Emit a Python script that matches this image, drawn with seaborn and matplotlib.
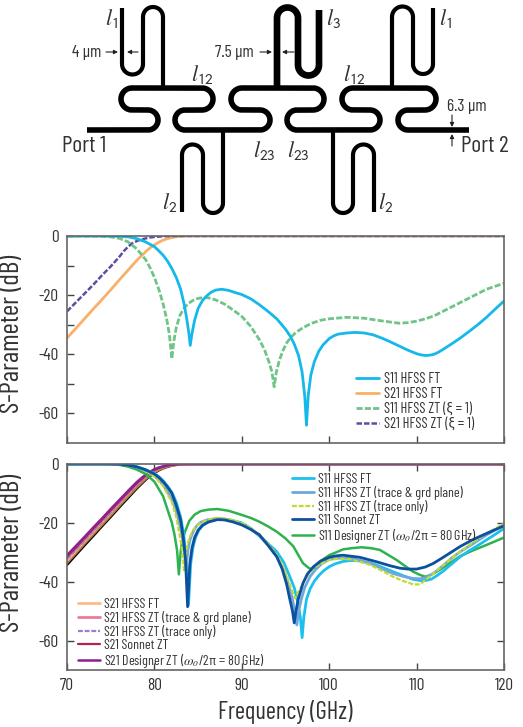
import numpy as np
import matplotlib
matplotlib.use("Agg")
import matplotlib.pyplot as plt
import seaborn as sns

# top panel
f_top_s11_ft = [70, 74, 76, 77, 78, 79, 80, 80.5, 81, 81.5, 82, 82.5, 83, 83.4, 83.7, 83.95, 84.1, 84.3, 84.6, 85, 85.5, 86, 86.5, 87, 87.7, 88.5, 89, 90, 91, 92, 93, 94, 95, 95.5, 96, 96.5, 96.9, 97.2, 97.4, 97.6, 97.9, 98.3, 98.8, 99.3, 100, 100.5, 101, 102, 103, 104, 105, 106, 107, 108, 109, 110, 110.5, 111, 111.5, 112, 112.5, 113, 114, 115, 116, 117, 118, 119, 120]
db_top_s11_ft = [0, 0, -0.1, -0.3, -0.9, -2, -3.6, -5, -6.5, -8.5, -11, -14, -18, -23, -28, -33, -37, -33, -28.5, -24.5, -21.8, -20.2, -19, -18.3, -18, -18.4, -18.9, -19.8, -21.2, -23.2, -25.5, -28, -31.5, -33.7, -36.5, -40.5, -46, -54, -64, -54, -47, -42.5, -39, -36.8, -34.7, -33.8, -33.2, -32.8, -32.6, -32.8, -33.4, -34.5, -35.8, -37.2, -38.6, -39.8, -40.2, -40.4, -40.3, -40, -39.3, -38.4, -36.5, -34.5, -32.3, -30, -27.5, -24.7, -22]
f_top_s21_ft = [70, 71, 72, 73, 74, 75, 76, 77, 78, 79, 79.5, 80, 80.5, 81, 81.5, 82, 82.5, 83, 83.5, 84, 120]
db_top_s21_ft = [-34.5, -31.3, -28, -24.7, -21.5, -18.2, -14.8, -11.5, -8.2, -5.3, -4, -3, -2.1, -1.4, -0.9, -0.5, -0.25, -0.1, -0.03, 0, 0]
f_top_s11_zt = [70, 74, 75, 76, 77, 78, 79, 79.5, 80, 80.5, 81, 81.4, 81.7, 82, 82.2, 82.5, 82.9, 83.3, 83.8, 84.4, 85, 85.6, 86.2, 87, 88, 89, 90, 91, 92, 92.6, 93.1, 93.45, 93.7, 93.95, 94.3, 94.7, 95.1, 95.6, 96.2, 97, 98, 99, 100, 102, 104, 106, 108, 109, 110, 111, 112, 113, 114, 115, 116, 117, 118, 119, 120]
db_top_s11_zt = [0, -0.1, -0.3, -0.8, -2, -4.4, -8, -10.7, -14, -18, -23, -28, -33, -41.5, -36, -31, -27, -24.8, -23, -21.8, -21.1, -20.8, -20.9, -21.6, -23, -25, -27.2, -30.5, -35, -38.5, -42.5, -46, -51, -46, -42, -38.8, -36.3, -34.3, -32.6, -31, -29.5, -28.5, -28, -27.5, -27.8, -28.7, -29.5, -29.3, -28.8, -28, -27, -25.5, -24, -22.5, -21, -19.5, -18, -17, -16]
f_top_s21_zt = [70, 71, 72, 73, 74, 75, 76, 76.5, 77, 77.5, 78, 78.5, 79, 79.5, 80, 81, 82, 120]
db_top_s21_zt = [-25.5, -22.5, -19.5, -16.5, -13.3, -10.3, -7, -5.1, -3.6, -2.4, -1.7, -1.2, -0.8, -0.5, -0.3, -0.1, 0, 0]

# bottom panel S11
f_s11_ft = [70, 75, 76, 77, 78, 79, 80, 80.5, 81, 81.5, 82, 82.5, 83, 83.35, 83.65, 83.9, 84.15, 84.4, 84.7, 85.1, 85.6, 86.2, 87, 87.8, 88.5, 90, 91, 92, 93, 94, 94.8, 95.5, 96, 96.4, 96.7, 96.9, 97.1, 97.4, 97.8, 98.3, 98.9, 99.4, 100, 100.7, 101.6, 102.5, 103.5, 104.5, 105.4, 107.3, 108.5, 109.6, 110.4, 111, 111.7, 112.3, 113, 114, 115, 116, 117, 118, 119, 120]
db_s11_ft = [0, 0, -0.1, -0.3, -0.9, -1.9, -3.2, -4.3, -5.7, -7.5, -9.6, -13, -18, -24, -32, -48, -34, -28.5, -25, -22.4, -20.7, -19.6, -18.9, -18.7, -18.9, -20, -21.8, -24.4, -27, -29.8, -33.4, -38.3, -42, -47, -52, -59, -52, -46, -42.5, -39.8, -37.6, -36.2, -34.9, -33.9, -33.1, -32.8, -32.9, -33.5, -34.3, -36.6, -38, -39.2, -39.6, -39.6, -39.1, -38, -36.5, -34, -31.5, -29.5, -27.7, -25.8, -23.9, -21.9]
f_s11_grd = [70, 75, 76, 77, 78, 79, 80, 81, 82, 82.5, 83, 83.35, 83.6, 83.85, 84.1, 84.5, 84.9, 85.3, 86, 87.2, 88.5, 90, 91, 92, 93, 94, 94.7, 95.3, 95.8, 96.1, 96.3, 96.5, 96.8, 97.2, 97.8, 98.4, 99.1, 100, 101, 102.4, 103.5, 104.7, 106, 107.3, 108.5, 109.6, 110.4, 111.1, 112, 113, 114, 115, 116.5, 118, 120]
db_s11_grd = [0, 0, -0.1, -0.4, -1.1, -2.3, -4, -7, -12, -16, -22, -27.5, -36, -29, -25.5, -22.5, -20.8, -19.8, -19, -18.5, -18.9, -20.3, -22, -24.4, -27.5, -31.5, -35.5, -40.5, -46, -50.5, -54.7, -50, -46, -42, -38.3, -36, -34, -32.4, -32, -32, -32.7, -33.8, -35.5, -37.2, -38.2, -38.9, -39, -38.6, -37, -34.6, -32, -29.8, -27, -24.1, -20.7]
f_s11_trace = [70, 75, 76, 77, 78, 79, 80, 81, 82, 82.5, 83, 83.2, 83.4, 83.6, 83.8, 84.3, 84.8, 85.3, 86, 87.2, 88.5, 90, 91, 92, 93, 94, 94.7, 95.3, 95.8, 96.1, 96.4, 96.8, 97.2, 97.8, 98.5, 100, 101, 102.4, 103.5, 104.7, 106, 107.3, 108.5, 109.6, 110.4, 111.1, 112, 113, 114, 115, 116.5, 118, 120]
db_s11_trace = [0, 0, -0.1, -0.4, -1.1, -2.4, -4.2, -7.5, -13, -18, -26, -30, -36.5, -31, -27, -23, -21, -20, -19, -18.3, -18.7, -20, -21.8, -24, -27, -30.9, -34.5, -39.4, -43.5, -45.6, -43.8, -41.7, -39.5, -36.6, -34.8, -32.6, -32.2, -32.4, -33.2, -34.3, -36.2, -38.3, -39.8, -40.9, -40.9, -39.2, -37, -34.5, -32, -29.8, -26.5, -23.6, -20.3]
f_s11_sonnet = [70, 75, 76, 77, 78, 79, 80, 80.5, 81, 81.5, 82, 82.5, 83, 83.3, 83.55, 83.8, 84.05, 84.3, 84.6, 85, 85.5, 86.2, 87.2, 88, 89, 90, 91, 92, 93.1, 94, 94.6, 95.1, 95.5, 95.8, 96, 96.2, 96.45, 97, 97.5, 98.2, 99, 100, 100.8, 101.6, 103.5, 105.4, 107, 108.1, 109, 110, 111, 111.9, 113, 115, 116.5, 118, 120]
db_s11_sonnet = [0, 0, -0.1, -0.4, -1, -2, -3.4, -4.5, -6, -7.8, -10, -14, -19, -25, -32, -48.5, -34, -28.5, -25, -22.5, -20.8, -19.7, -18.9, -19, -19.7, -20.7, -22.2, -24, -28, -31.5, -35.5, -40.5, -46, -50, -54, -50, -46, -40.5, -37.4, -34.9, -33, -31.7, -31.2, -31, -31.7, -33.2, -34.6, -35.4, -35.7, -35.7, -35, -33.8, -31.8, -28, -25.6, -23.6, -21]
f_s11_designer = [70, 74, 75, 76, 77, 78, 79, 80, 81, 82, 82.3, 82.6, 82.8, 83, 83.2, 83.5, 84, 84.6, 85.3, 86.2, 87.2, 88.5, 90, 91, 92, 93, 94, 95, 95.9, 97, 97.6, 98, 98.4, 98.7, 99.3, 100, 100.8, 101.6, 102.6, 103.7, 104.8, 105.8, 107.7, 109.6, 110.4, 111, 111.6, 112.3, 113.5, 115, 116.5, 118, 120]
db_s11_designer = [0, 0, -0.1, -0.3, -0.9, -1.9, -3.4, -6, -11, -20, -24, -29.5, -37.5, -30, -26, -23, -19.3, -17.2, -16, -15.5, -15.3, -15.9, -17.3, -18.3, -19.6, -21.2, -23, -25.3, -28, -33.7, -35.2, -35.8, -35, -33.8, -32.4, -31, -30, -29, -28.6, -28.3, -28.6, -29.2, -32.6, -36.6, -37.7, -38.3, -37.7, -36.6, -34.3, -31.3, -29.3, -27.5, -25]

# bottom panel S21
f_s21 = [70, 71, 72, 73, 74, 75, 76, 77, 78, 79, 79.5, 80, 80.5, 81, 81.5, 82, 82.5, 83, 84, 120]
db_s21_ft = [-33.5, -30.3, -27, -23.8, -20.6, -17.4, -14.1, -10.9, -7.8, -5, -3.8, -2.8, -2, -1.3, -0.8, -0.5, -0.25, -0.1, 0, 0]
db_s21_grd = [-32, -29, -25.8, -22.6, -19.4, -16.2, -13, -9.9, -6.8, -4.2, -3.1, -2.2, -1.5, -1, -0.6, -0.3, -0.1, 0, 0, 0]
db_s21_trace = [-32.3, -29.2, -26, -22.8, -19.6, -16.4, -13.2, -10, -7, -4.4, -3.2, -2.3, -1.6, -1, -0.6, -0.3, -0.1, 0, 0, 0]
db_s21_sonnet = [-31.5, -28.4, -25.2, -22, -18.9, -15.7, -12.6, -9.5, -6.5, -3.9, -2.8, -2, -1.4, -0.9, -0.5, -0.3, -0.1, 0, 0, 0]
db_s21_designer = [-31, -27.9, -24.8, -21.6, -18.5, -15.3, -12.2, -9.1, -6.1, -3.6, -2.6, -1.8, -1.2, -0.8, -0.4, -0.2, -0.1, 0, 0, 0]
db_s21_edge = [-34.2, -30.9, -27.6, -24.4, -21.1, -17.9, -14.6, -11.4, -8.2, -5.3, -4, -3, -2.1, -1.4, -0.9, -0.5, -0.25, -0.1, 0, 0]

x_ticks = [70, 80, 90, 100, 110, 120]
y_ticks = [0, -20, -40, -60]
y_minor = [-10, -30, -50]

W, H = 523, 727
TXT = "#333333"

sns.set_theme(style="ticks")
plt.rcParams["font.family"] = ["Barlow Condensed", "Roboto Condensed", "Liberation Sans Narrow", "Liberation Sans", "DejaVu Sans"]
plt.rcParams["mathtext.fontset"] = "stix"
plt.rcParams["axes.unicode_minus"] = False
plt.rcParams["lines.solid_joinstyle"] = "round"


def px_axes(fig, left, top, right, bottom):
    return fig.add_axes([left / W, 1 - bottom / H, (right - left) / W, (bottom - top) / H])


def draw(ax, f, db, label, color, lw=2.0, dashed=False, alpha=1.0):
    sns.lineplot(x=f, y=db, ax=ax, color=color, lw=lw, alpha=alpha, estimator=None, sort=False,
                 legend=False, ls=(0, (2.2, 0.8)) if dashed else "-")
    line = ax.lines[-1]
    line.set_label(label)
    return line


def style_panel(ax, show_x, label_y):
    ax.set_xlim(70, 120)
    ax.set_ylim(-70, 0)
    ax.set_xticks(x_ticks)
    ax.set_yticks(y_ticks)
    ax.tick_params(direction="in", length=5, width=1.0, color="#444444",
                   labelsize=12.5, labelcolor=TXT, pad=6, labelbottom=show_x)
    ax.set_ylabel("S-Parameter (dB)", fontsize=19.5, color=TXT)
    ax.yaxis.set_label_coords(-0.098, label_y)
    for s in ax.spines.values():
        s.set_linewidth(1.2)
        s.set_color("#666666")


def trace(points, n=24):
    # points go line, arc, line, arc... the arc keeps the direction of the line before it
    pts = np.array(points, dtype=float)
    out = [pts[0], pts[1]]
    for i in range(1, len(pts) - 1, 2):
        a, b = pts[i], pts[i + 1]
        d = a - pts[i - 1]
        d = d / np.hypot(*d)
        c = (a + b) / 2
        v = a - c
        r = np.hypot(*v)
        for t in np.linspace(0, np.pi, n)[1:]:
            out.append(c + v * np.cos(t) + r * d * np.sin(t))
        if i + 2 < len(pts):
            out.append(pts[i + 2])
    return np.array(out)


fig = plt.figure(figsize=(W / 100, H / 100), dpi=100)

# schematic
sch = fig.add_axes([0, 0, 1, 1])
sch.set_xlim(0, W)
sch.set_ylim(H, 0)
sch.axis("off")

main_path = [(87, 130), (148, 130), (148, 110), (132, 110), (132, 88), (202, 88), (202, 110), (185, 110),
             (185, 130), (260, 130), (260, 110), (242, 110), (242, 88), (313, 88), (313, 110), (297, 110),
             (297, 130), (370, 130), (370, 110), (353, 110), (353, 88), (425, 88), (425, 110), (408, 110),
             (408, 130), (469, 130)]
stubs = [
    ([(122, 8), (122, 64), (143, 64), (143, 17), (163, 17), (163, 88)], 3.0),
    ([(319, 10), (319, 65), (298, 65), (298, 18), (277, 18), (277, 88)], 4.8),
    ([(433, 8), (433, 64), (413, 64), (413, 17), (392, 17), (392, 88)], 3.0),
    ([(223, 130), (223, 203), (203, 203), (203, 155), (182, 155), (182, 212)], 3.0),
    ([(333, 130), (333, 203), (353, 203), (353, 155), (374, 155), (374, 212)], 3.0),
]
xy = trace(main_path)
sch.plot(xy[:, 0], xy[:, 1], color="black", lw=4.0, solid_capstyle="butt")
for pts, lw in stubs:
    xy = trace(pts)
    sch.plot(xy[:, 0], xy[:, 1], color="black", lw=lw, solid_capstyle="butt")

for x, y, s in [(111, 18, "1"), (334, 18, "3"), (445, 18, "1"), (203, 75, "12"), (355, 75, "12"),
                (264, 150, "23"), (298, 150, "23"), (170, 202, "2"), (386, 202, "2")]:
    sch.text(x, y, rf"$l_{{\mathsf{{{s}}}}}$", fontsize=16, ha="center", va="center", color=TXT)

sch.text(62, 146, "Port 1", fontsize=17, ha="left", va="center", color=TXT)
sch.text(461, 146, "Port 2", fontsize=17, ha="left", va="center", color=TXT)
sch.text(72, 52, "4 µm", fontsize=12.5, ha="left", va="center", color=TXT)
sch.text(215, 52, "7.5 µm", fontsize=12.5, ha="left", va="center", color=TXT)
sch.text(447, 106, "6.3 µm", fontsize=12.5, ha="left", va="center", color=TXT)
for start, end in [((106, 52), (118, 52)), ((138, 52), (127, 52)), ((260, 52), (272, 52)), ((294, 52), (282, 52)),
                   ((452, 115), (452, 127)), ((452, 146), (452, 134))]:
    sch.annotate("", xy=end, xytext=start, arrowprops=dict(arrowstyle="-|>", color="#222222", lw=0.8,
                                                           mutation_scale=6, shrinkA=0, shrinkB=0))

# top panel
ax1 = px_axes(fig, 67, 236, 504, 443)
h_s21_ft = draw(ax1, f_top_s21_ft, db_top_s21_ft, "S21 HFSS FT", "#f9b06a")
h_s21_zt = draw(ax1, f_top_s21_zt, db_top_s21_zt, "S21 HFSS ZT (ξ = 1)", "#5a4fa2", lw=1.8, dashed=True)
h_s11_zt = draw(ax1, f_top_s11_zt, db_top_s11_zt, "S11 HFSS ZT (ξ = 1)", "#6fc487", lw=2.0, dashed=True)
h_s11_ft = draw(ax1, f_top_s11_ft, db_top_s11_ft, "S11 HFSS FT", "#14b9ea")
style_panel(ax1, False, (443 - 334) / 207)
ax1.set_yticks(y_minor, minor=True)
ax1.tick_params(which="minor", direction="in", length=5, width=1.0, color="#444444")
ax1.legend(handles=[h_s11_ft, h_s21_ft, h_s11_zt, h_s21_zt], loc="upper left",
           bbox_to_anchor=((356 - 67) / 437, 1 - (372 - 236) / 207), frameon=False, fontsize=10.5,
           labelcolor=TXT, handlelength=1.55, handletextpad=0.35, labelspacing=0.07, borderpad=0, borderaxespad=0)

# bottom panel
ax2 = px_axes(fig, 67, 464, 504, 670)
draw(ax2, f_s21, db_s21_edge, "_edge", "black", lw=2.0)
b_ft = draw(ax2, f_s21, db_s21_ft, "S21 HFSS FT", "#f9a65c", alpha=0.75)
b_grd = draw(ax2, f_s21, db_s21_grd, "S21 HFSS ZT (trace & grd plane)", "#ee7a96")
b_trace = draw(ax2, f_s21, db_s21_trace, "S21 HFSS ZT (trace only)", "#9a80c4", lw=1.6, dashed=True)
b_sonnet = draw(ax2, f_s21, db_s21_sonnet, "S21 Sonnet ZT", "#b3234f", lw=1.6)
b_designer = draw(ax2, f_s21, db_s21_designer, r"S21 Designer ZT ($\omega_o$/2π = 80 GHz)", "#8e1f8e", lw=1.8)
r_designer = draw(ax2, f_s11_designer, db_s11_designer, r"S11 Designer ZT ($\omega_o$/2π = 80 GHz)", "#2eb24f", lw=1.8)
r_ft = draw(ax2, f_s11_ft, db_s11_ft, "S11 HFSS FT", "#1cc0ee")
r_grd = draw(ax2, f_s11_grd, db_s11_grd, "S11 HFSS ZT (trace & grd plane)", "#6fa8dc")
r_trace = draw(ax2, f_s11_trace, db_s11_trace, "S11 HFSS ZT (trace only)", "#c4d92e", lw=1.6, dashed=True)
r_sonnet = draw(ax2, f_s11_sonnet, db_s11_sonnet, "S11 Sonnet ZT", "#0d509f")
style_panel(ax2, True, (670 - 553) / 206)
ax2.tick_params(top=True, right=True)
ax2.set_xlabel("Frequency (GHz)", fontsize=17.7, color=TXT, labelpad=5)

leg_kw = dict(loc="upper left", frameon=False, fontsize=10, labelcolor=TXT, handlelength=1.55, handletextpad=0.35,
              labelspacing=0.0, borderpad=0, borderaxespad=0)
leg_right = ax2.legend(handles=[r_ft, r_grd, r_trace, r_sonnet, r_designer],
                       bbox_to_anchor=((292 - 67) / 437, 1 - (473 - 464) / 206), **leg_kw)
ax2.add_artist(leg_right)
ax2.legend(handles=[b_ft, b_grd, b_trace, b_sonnet, b_designer],
           bbox_to_anchor=((78 - 67) / 437, 1 - (598 - 464) / 206), **leg_kw)

fig.savefig("out.png", dpi=100)
